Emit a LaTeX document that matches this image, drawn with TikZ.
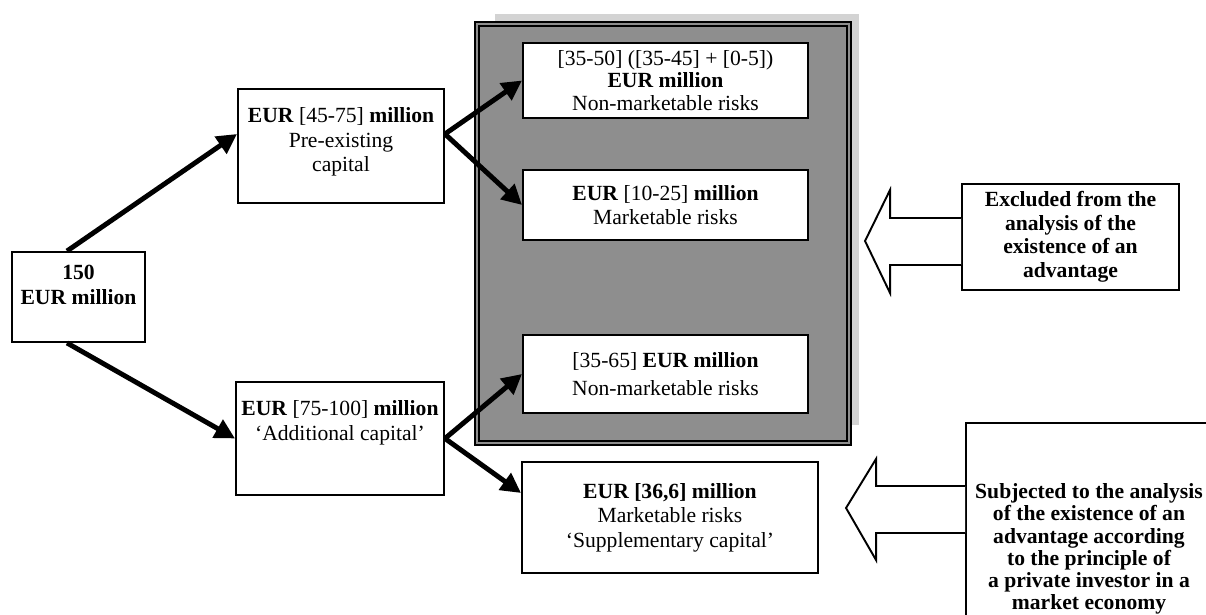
\documentclass[tikz,border=0pt]{standalone}
\usepackage{fontspec}
\setmainfont{Liberation Serif}
\usepackage{xcolor}
\usepackage{tikz}
\usetikzlibrary{arrows.meta}
\definecolor{zonefill}{HTML}{8E8E8E}
\definecolor{shadefill}{HTML}{D3D3D3}
\definecolor{linecolor}{HTML}{000000}
\tikzset{
  >=Latex,
  amount box/.style={
    rectangle,
    draw=linecolor,
    fill=white,
    line width=1.1pt,
    inner sep=2pt,
    align=center,
    font=\fontsize{12.3}{14}\selectfont
  },
  note box/.style={
    rectangle,
    draw=linecolor,
    fill=white,
    line width=1.1pt,
    inner sep=2pt,
    align=center,
    font=\bfseries\fontsize{12.3}{13.4}\selectfont
  },
  risk zone/.style={
    rectangle,
    draw=linecolor,
    fill=zonefill,
    line width=1.3pt,
    double=zonefill,
    double distance=1.3pt
  },
  flow/.style={
    draw=linecolor,
    line width=2.8pt,
    -{Triangle[length=4mm,width=4mm]}
  },
  block arrow/.style={
    draw=linecolor,
    fill=white,
    line width=1.1pt,
    line join=miter
  }
}

\begin{document}
\begin{tikzpicture}[x=1cm,y=1cm]
  \useasboundingbox (0,0) rectangle (24.12,12.30);

  % shaded zone behind the non-marketable part
  \fill[shadefill] (9.90,12.02) rectangle (17.18,3.80);
  \node[risk zone, minimum width=7.44cm, minimum height=8.38cm] (zone) at (13.26,7.63) {};

  \node[amount box, minimum width=2.66cm, minimum height=1.80cm] (src) at (1.57,6.36)
    {\textbf{150}\\\textbf{EUR million}\\~};
  \node[amount box, minimum width=4.12cm, minimum height=2.28cm] (pre) at (6.82,9.38)
    {\textbf{EUR} [45-75] \textbf{million}\\Pre-existing\\capital\\[-0.24cm]~};
  \node[amount box, minimum width=4.16cm, minimum height=2.26cm] (add) at (6.80,3.53)
    {\textbf{EUR} [75-100] \textbf{million}\\`Additional capital'\\[0.23cm]~};

  \node[amount box, minimum width=5.70cm, minimum height=1.50cm,
    font=\fontsize{12.3}{12.6}\selectfont] (nm1) at (13.31,10.69)
    {[35-50] ([35-45] + [0-5])\\\textbf{EUR million}\\Non-marketable risks};
  \node[amount box, minimum width=5.70cm, minimum height=1.40cm] (nm2) at (13.31,8.20)
    {\textbf{EUR} [10-25] \textbf{million}\\Marketable risks};
  \node[amount box, minimum width=5.70cm, minimum height=1.56cm] (nm3) at (13.31,4.82)
    {[35-65] \textbf{EUR million}\\[2pt]Non-marketable risks};
  \node[amount box, minimum width=5.92cm, minimum height=2.22cm] (sup) at (13.40,1.95)
    {\textbf{EUR [36,6] million}\\Marketable risks\\`Supplementary capital'};

  \node[note box, minimum width=4.34cm, minimum height=2.12cm] (excl) at (21.41,7.56)
    {Excluded from the\\analysis of the\\existence of an\\advantage};
  \node[note box, minimum width=4.92cm, minimum height=5.04cm,
    font=\bfseries\fontsize{12.3}{12.6}\selectfont] (subj) at (21.78,1.32)
    {Subjected to the analysis\\of the existence of an\\advantage according\\to the principle of\\a private investor in a\\market economy};

  \draw[flow] ([xshift=-0.23cm]src.north) -- ([yshift=0.24cm]pre.west);
  \draw[flow] ([xshift=-0.23cm]src.south) -- (add.west);
  \foreach \t in {nm1,nm2}{
    \draw[flow] ([yshift=0.24cm]pre.east) -- (\t.west);
  }
  \draw[flow] (add.east) -- (nm3.west);
  \draw[flow] (add.east) -- ([yshift=0.49cm]sup.west);

  \filldraw[block arrow] ([yshift=0.38cm]excl.west) -- ++(-1.42,0) -- ++(0,0.56)
    -- ++(-0.50,-1.02) -- ++(0.50,-1.04) -- ++(0,0.56) -- ++(1.42,0);
  \filldraw[block arrow] ([yshift=1.26cm]subj.west) -- ++(-1.78,0) -- ++(0,0.54)
    -- ++(-0.60,-0.98) -- ++(0.60,-1.04) -- ++(0,0.54) -- ++(1.78,0);
\end{tikzpicture}
\end{document}
